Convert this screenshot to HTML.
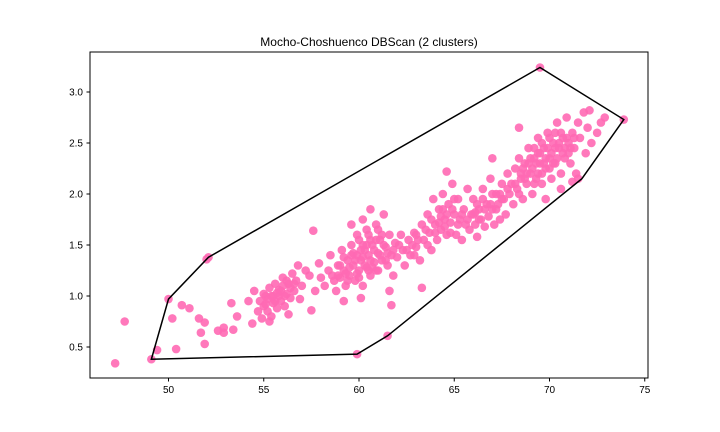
<!DOCTYPE html>
<html><head><meta charset="utf-8"><style>
body{margin:0;background:#fff;}
svg{display:block;font-family:"Liberation Sans","DejaVu Sans",sans-serif;}
</style></head><body>
<svg id="chart" width="720" height="432">
<text x="369" y="46" text-anchor="middle" font-size="12">Mocho-Choshuenco DBScan (2 clusters)</text>
<g id="pts"></g>
<g id="hull"></g>
<rect x="90" y="52" width="558" height="326" fill="none" stroke="#000" stroke-width="1"/>
<g id="axes" font-size="10"></g>
</svg>
<script>
const xTicks=[50,55,60,65,70,75];
const yTicks=[0.5,1.0,1.5,2.0,2.5,3.0];
const hullX=[49.1,50.0,52.1,69.5,73.9,71.7,61.5,59.9];
const hullY=[0.38,0.97,1.38,3.24,2.73,2.15,0.61,0.43];
const outliers=[[47.2,0.34],[47.7,0.75],[49.1,0.38],[49.4,0.47],[50,0.97],[50.2,0.78],[50.4,0.48],[50.7,0.91],[51.1,0.88],[51.6,0.78],[51.7,0.64],[51.9,0.53],[51.9,0.74],[52,1.36],[52.1,1.38],[52.6,0.66],[52.9,0.69],[52.9,0.64],[53.3,0.93],[53.4,0.67],[53.6,0.80],[54.2,0.95],[54.4,0.73],[59.9,0.43],[61.5,0.61],[69.5,3.24],[73.9,2.73],[68.4,2.65],[71.5,2.15],[71.2,2.12],[57.6,1.64],[57.5,0.86],[63.3,1.08],[61.7,0.91],[64.6,2.22],[67.0,2.35],[72.9,2.75]];
const band=[[54.7,0.85],[54.8,0.95],[54.9,0.78],[55,0.9],[55,1.02],[55.2,0.85],[55.2,0.97],[55.3,1.08],[55.4,0.8],[55.5,0.93],[55.5,1.0],[55.6,1.12],[55.7,0.88],[55.8,1.0],[55.8,1.06],[55.9,0.95],[56,1.1],[56,1.18],[56.1,0.9],[56.2,1.02],[56.3,1.12],[56.4,0.98],[56.5,1.22],[56.6,1.05],[56.7,1.15],[56.8,1.3],[57,1.1],[57.2,1.25],[55.3,0.75],[56.3,0.82],[54.5,1.05],[56.9,0.97],[57.4,1.2],[57.7,1.05],[58,1.18],[57.9,1.32],
[58.2,1.1],[58.4,1.25],[58.5,1.4],[58.6,1.2],[58.8,1.05],[58.9,1.3],[59,1.18],[59.1,1.45],[59.2,1.25],[59.3,1.1],[59.4,1.35],[59.5,1.2],[59.6,1.5],[59.7,1.3],[59.8,1.15],[59.9,1.4],[60,1.25],[60,1.55],[60.1,1.35],[60.2,1.1],[60.3,1.45],[60.4,1.28],[60.5,1.6],[60.5,1.4],[60.6,1.2],[60.7,1.5],[60.8,1.33],[60.9,1.7],[61,1.42],[61,1.25],[61.1,1.55],[61.2,1.35],[61.3,1.8],[61.4,1.48],[61.5,1.3],[61.6,1.6],[61.7,1.4],[61.8,1.2],[61.9,1.52],[62,1.38],[60.2,1.75],[60.6,1.85],[59.6,1.7],[60.1,0.98],[59.2,0.95],[61.6,1.05],[62.2,1.6],[62.3,1.45],[62.4,1.3],[62.6,1.55],[62.7,1.4],[62.9,1.62],[63,1.48],[63.2,1.35],[63.3,1.7],[63.4,1.55],[63.6,1.8],[63.7,1.62],[63.8,1.45],[63.9,1.95],
[64,1.7],[64.1,1.55],[64.2,1.85],[64.3,1.65],[64.4,2.0],[64.5,1.75],[64.6,1.6],[64.7,1.9],[64.8,1.72],[64.9,2.1],[65,1.8],[65.1,1.6],[65.2,1.95],[65.3,1.75],[65.4,1.55],[65.5,1.85],[65.6,1.7],[65.7,2.05],[65.8,1.65],[65.9,1.8],[66,1.95],[66.1,1.7],[66.2,1.58],[66.3,1.85],[66.4,1.75],[66.5,2.05],[66.6,1.68],[66.7,1.9],[66.8,1.78],[66.9,2.15],[67,1.85],[67.1,1.7],[67.2,2.0],[67.3,1.9],[67.4,1.75],[67.5,2.1],[67.6,1.95],[67.7,1.8],[67.8,2.2],[67.9,2.0],
[68,2.1],[68.1,1.9],[68.2,2.25],[68.3,2.05],[68.4,2.35],[68.5,2.15],[68.6,1.95],[68.7,2.3],[68.8,2.1],[68.9,2.45],[69,2.2],[69.1,2.0],[69.2,2.35],[69.3,2.15],[69.4,2.55],[69.5,2.3],[69.6,2.1],[69.7,2.45],[69.8,2.25],[69.9,2.6],[70,2.35],[70.1,2.15],[70.2,2.5],[70.3,2.3],[70.4,2.7],[70.5,2.45],[70.6,2.2],[70.7,2.55],[70.8,2.35],[70.9,2.75],[71,2.5],[71.1,2.3],[71.2,2.6],[71.3,2.45],[71.5,2.7],[71.6,2.55],[71.8,2.8],[72,2.65],[72.2,2.5],[72.5,2.6],[72.1,2.82],[71.9,2.4],[71.4,2.2],[70.6,2.05],[69.8,1.95],[72.7,2.7]];
const core=[[55.1,0.92],[55.4,1.0],[55.6,0.95],[55.9,1.05],[56.1,1.0],[56.4,1.08],[56.6,1.12],[55.7,1.03],[55.1,1.0],[56.2,1.15],
[58.7,1.15],[59.0,1.3],[59.2,1.38],[59.5,1.28],[59.7,1.42],[59.9,1.22],[60.1,1.45],[60.3,1.3],[60.4,1.5],[60.6,1.35],[60.8,1.45],[60.9,1.25],[61.1,1.4],[61.3,1.5],[61.5,1.42],[59.4,1.15],[59.8,1.35],[60.2,1.38],[60.7,1.28],[61.2,1.6],[60.4,1.65],[59.9,1.6],[61.0,1.65],[60.0,1.18],[60.6,1.55],[59.3,1.22],[58.9,1.2],[61.8,1.45],[62.1,1.5],[62.5,1.45],[62.8,1.5],[63.1,1.55],[63.5,1.65],[62.9,1.4],[63.6,1.5],[64.0,1.62],[63.8,1.75],[64.3,1.78],[64.6,1.8],[64.9,1.85],[65.2,1.7],[64.5,1.68],[65.0,1.95],[65.4,1.8],[64.2,1.72],[64.8,1.62],
[66.0,1.8],[66.3,1.75],[66.6,1.85],[66.9,1.9],[67.2,1.85],[67.5,1.95],[67.8,2.05],[66.5,1.95],[67.0,2.0],[66.2,1.9],
[68.2,2.1],[68.5,2.2],[68.7,2.15],[68.9,2.3],[69.1,2.25],[69.3,2.3],[69.5,2.4],[69.7,2.3],[69.9,2.45],[70.1,2.4],[70.3,2.45],[70.5,2.5],[70.7,2.4],[70.9,2.55],[71.1,2.45],[69.0,2.35],[69.4,2.2],[69.8,2.35],[70.2,2.3],[70.6,2.6],[70.0,2.25],[69.6,2.5],[68.8,2.2],[70.4,2.35],[70.8,2.45],[71.3,2.55],[69.2,2.1],[68.6,2.25],[70.0,2.55],[69.4,2.4],
[60.2,1.5],[60.5,1.25],[59.6,1.4],[61.4,1.35],[60.9,1.55],[63.0,1.6],[64.4,1.85],[65.7,1.75],[66.1,1.82],[67.4,2.0],[69.2,2.45],[70.3,2.6],[71.0,2.4],[68.4,2.0],[69.6,2.2]];
const NS="http://www.w3.org/2000/svg";
function sx(v){return 168.5+(v-50)*19.05;}
function sy(v){return 296-(v-1)*102;}
const pts=document.getElementById('pts');
outliers.concat(band,core).forEach(p=>{
 const c=document.createElementNS(NS,'circle');
 c.setAttribute('cx',sx(p[0]));c.setAttribute('cy',sy(p[1]));c.setAttribute('r',4.3);
 c.setAttribute('fill','#ff69b4');c.setAttribute('fill-opacity','0.9');
 
 
 pts.appendChild(c);
});
const hull=document.getElementById('hull');
const pg=document.createElementNS(NS,'polygon');
pg.setAttribute('points',hullX.map((x,i)=>sx(x)+','+sy(hullY[i])).join(' '));
pg.setAttribute('fill','none');pg.setAttribute('stroke','#000');pg.setAttribute('stroke-width','1.5');


hull.appendChild(pg);
const ax=document.getElementById('axes');
xTicks.forEach(t=>{
 const l=document.createElementNS(NS,'line');
 l.setAttribute('x1',sx(t));l.setAttribute('x2',sx(t));l.setAttribute('y1',378);l.setAttribute('y2',381.5);l.setAttribute('stroke','#000');
 
 
 ax.appendChild(l);
 const tx=document.createElementNS(NS,'text');
 tx.setAttribute('x',sx(t));tx.setAttribute('y',393);tx.setAttribute('text-anchor','middle');tx.textContent=t;
 
 
 ax.appendChild(tx);
});
yTicks.forEach(t=>{
 const l=document.createElementNS(NS,'line');
 l.setAttribute('x1',86.5);l.setAttribute('x2',90);l.setAttribute('y1',sy(t));l.setAttribute('y2',sy(t));l.setAttribute('stroke','#000');
 
 
 ax.appendChild(l);
 const tx=document.createElementNS(NS,'text');
 tx.setAttribute('x',83);tx.setAttribute('y',sy(t)+3.5);tx.setAttribute('text-anchor','end');tx.textContent=t.toFixed(1);
 
 
 ax.appendChild(tx);
});
</script>
</body></html>
